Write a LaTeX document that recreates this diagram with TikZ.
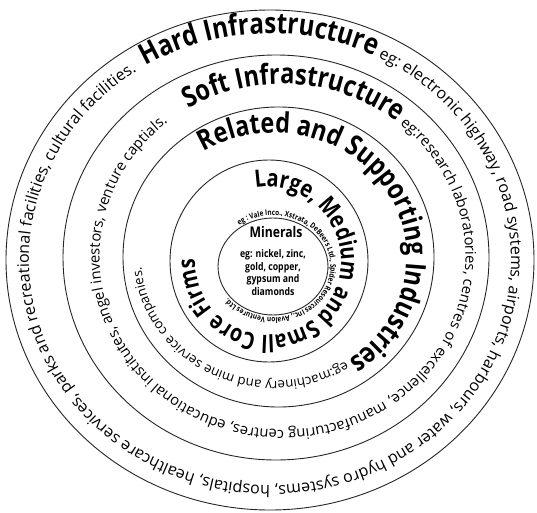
\documentclass[tikz,border=0pt]{standalone}
\usepackage{fontspec}
\setmainfont{Open Sans}
\newfontfamily\condfont[FakeStretch=0.83]{Open Sans}
\usetikzlibrary{decorations.text}
\newcommand\fHard{\condfont\bfseries\fontsize{29}{31}\selectfont}
\newcommand\fSoft{\condfont\bfseries\fontsize{28.4}{30}\selectfont}
\newcommand\fRel{\condfont\bfseries\fontsize{28.2}{30}\selectfont}
\newcommand\fCore{\condfont\bfseries\fontsize{23.9}{26}\selectfont}
\newcommand\fSmA{\normalfont\mdseries\fontsize{16.05}{18}\selectfont}
\newcommand\fSmB{\normalfont\mdseries\fontsize{14.75}{16}\selectfont}
\newcommand\fSmC{\normalfont\mdseries\fontsize{13.3}{15}\selectfont}
\newcommand\fTiny{\condfont\bfseries\fontsize{7.75}{8}\selectfont}
\begin{document}
\begin{tikzpicture}[x=1pt,y=1pt,
  ring/.style={draw=black!85, line width=0.9pt}]
\fill[white] (0,0) rectangle (537,512);
\useasboundingbox (0,0) rectangle (537,512);
% circles
\draw[ring] (270,252) ellipse [x radius=264, y radius=250];
\draw[ring] (276,254.5) ellipse [x radius=213, y radius=202.5];
\draw[ring] (278.5,255) ellipse [x radius=155.5, y radius=150];
\draw[ring] (269,251) ellipse [x radius=99, y radius=101];
\draw[ring] (273,245.5) ellipse [x radius=55, y radius=48.5];
% ring 1
\path[decorate, decoration={text along path,
  text={|\fHard|Hard Infrastructure|\fSmA| eg: electronic highway, road systems, airports, harbours, water and hydro systems, hospitals, healthcare services, parks and recreational facilities, cultural facilities.}},
  shift={(270,252.5)}]
  (121:241 and 226) arc[start angle=121, end angle=-239, x radius=241, y radius=226];
% ring 2
\path[decorate, decoration={text along path,
  text={|\fSoft|Soft Infrastructure|\fSmB| eg:research laboratories, centres of excellence, manufacturing centres, educational institutes, angel investors, venture captials.}},
  shift={(282.5,255)}]
  (121:183 and 173) arc[start angle=121, end angle=-238, x radius=183, y radius=173];
% ring 3
\path[decorate, decoration={text along path,
  text={|\fRel|Related and Supporting Industries|\fSmC| eg:machinery and mine service companies.}},
  shift={(274,255)}]
  (122:133 and 124) arc[start angle=122, end angle=-237, x radius=133, y radius=124];
% ring 4
\path[decorate, decoration={text along path,
  text={|\fCore|Large, Medium and Small Core Firms}},
  shift={(268,251)}]
  (100:73 and 74) arc[start angle=100, end angle=-259, x radius=73, y radius=74];
% ring 5
\path[decorate, decoration={text along path,
  text={|\fTiny|eg : Vale Inco., Xstrata, DeBeers Ltd., Spider Resources Inc., Avalon Ventures Ltd.}},
  shift={(273,245.5)}]
  (126:57.5 and 51) arc[start angle=126, end angle=-233, x radius=57.5, y radius=51];
% centre
\node[font=\condfont\bfseries\fontsize{14.7}{16}\selectfont] (minerals) at (276,280) {Minerals};
\node[font=\condfont\bfseries\fontsize{10.5}{12.5}\selectfont, align=center] (examples) at (273,239.5) {eg: nickel, zinc,\\gold, copper,\\gypsum and\\diamonds};
\end{tikzpicture}
\end{document}
